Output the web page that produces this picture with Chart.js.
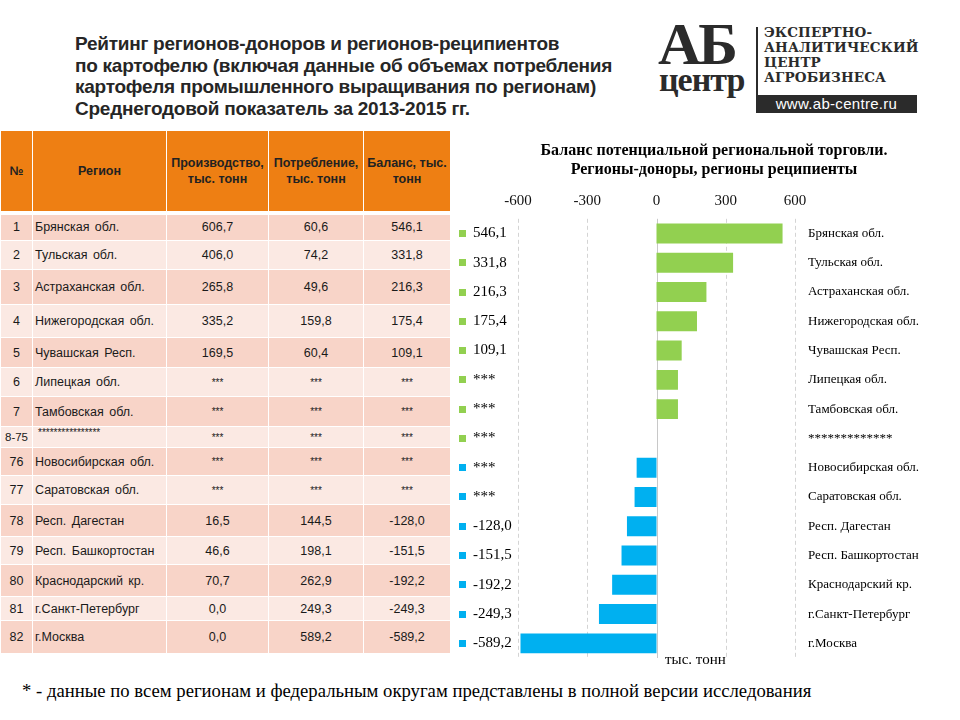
<!DOCTYPE html>
<html><head><meta charset="utf-8">
<script src="https://cdn.jsdelivr.net/npm/chart.js@4.4.1/dist/chart.umd.min.js"></script>
<style>
html,body{margin:0;padding:0;background:#fff;}
#slide{position:relative;width:960px;height:720px;overflow:hidden;background:#fff;}
#title{position:absolute;left:75px;top:33px;font:bold 19px "Liberation Sans",Arial,sans-serif;line-height:21.5px;color:#262626;white-space:nowrap;letter-spacing:-0.25px;}
#tbl{position:absolute;left:0;top:130px;border-collapse:collapse;table-layout:fixed;font:12.5px "Liberation Sans",Arial,sans-serif;color:#1a1a1a;}
#tbl td{border:1.5px solid #fff;padding:0;text-align:center;vertical-align:middle;overflow:hidden;white-space:nowrap;}
#tbl tr.hd td{background:#EE7F13;font-weight:bold;font-size:12.5px;line-height:16px;color:#222;border-bottom:4px solid #fff;}
#tbl tr.dk td{background:#F8D4C8;}
#tbl tr.lt td{background:#FBE9E3;}
#tbl td.rg{text-align:left;padding-left:2px;word-spacing:2px;}
#chartBox{position:absolute;left:455px;top:135px;width:500px;height:540px;}
#unit{position:absolute;left:665px;top:651px;font:15px "Liberation Serif","Times New Roman",serif;color:#000;}
#foot{position:absolute;left:22px;top:680px;font:18.7px "Liberation Serif","Times New Roman",serif;color:#000;white-space:nowrap;}
#logoAB{position:absolute;left:658px;top:14px;font:bold 60px "Liberation Serif",serif;color:#2b2b2b;line-height:60px;letter-spacing:-3px;}
#logoC{position:absolute;left:659px;top:62px;font:bold 34px "Liberation Serif",serif;color:#2b2b2b;line-height:36px;letter-spacing:-1px;}
#logoBar{position:absolute;left:756px;top:27px;width:2px;height:72px;background:#2b2b2b;}
#logoTxt{position:absolute;left:764px;top:25px;font:bold 13.5px "DejaVu Serif",serif;color:#2b2b2b;line-height:15px;letter-spacing:0.1px;white-space:nowrap;}
#logoUrl{position:absolute;left:756px;top:95px;width:161px;height:18px;background:#2b2b2b;color:#fff;font:15px "Liberation Sans",sans-serif;line-height:18px;text-align:center;letter-spacing:0.3px;}
</style></head>
<body><div id="slide">
<div id="title">Рейтинг регионов-доноров и регионов-реципиентов<br>по картофелю (включая данные об объемах потребления<br>картофеля промышленного выращивания по регионам)<br>Среднегодовой показатель за 2013-2015 гг.</div>
<div id="logoAB">АБ</div>
<div id="logoC">центр</div>
<div id="logoBar"></div>
<div id="logoTxt">ЭКСПЕРТНО-<br>АНАЛИТИЧЕСКИЙ<br>ЦЕНТР<br>АГРОБИЗНЕСА</div>
<div id="logoUrl">www.ab-centre.ru</div>
<table id="tbl"></table>
<div id="chartBox"><canvas id="c" width="500" height="540"></canvas></div>
<div id="unit">тыс. тонн</div>
<div id="foot">* - данные по всем регионам и федеральным округам представлены в полной версии исследования</div>
</div>
<script>
// ---- Table data ----
const tableHeaders = ['№', 'Регион', 'Производство,<br>тыс. тонн', 'Потребление,<br>тыс. тонн', 'Баланс, тыс.<br>тонн'];
const rowNums = ['1','2','3','4','5','6','7','8-75','76','77','78','79','80','81','82'];
const rowRegions = ['Брянская обл.','Тульская обл.','Астраханская обл.','Нижегородская обл.','Чувашская Респ.','Липецкая обл.','Тамбовская обл.','****************','Новосибирская  обл.','Саратовская  обл.','Респ. Дагестан','Респ. Башкортостан','Краснодарский кр.','г.Санкт-Петербург','г.Москва'];
const rowProduction = ['606,7','406,0','265,8','335,2','169,5','***','***','***','***','***','16,5','46,6','70,7','0,0','0,0'];
const rowConsumption = ['60,6','74,2','49,6','159,8','60,4','***','***','***','***','***','144,5','198,1','262,9','249,3','589,2'];
const rowBalance = ['546,1','331,8','216,3','175,4','109,1','***','***','***','***','***','-128,0','-151,5','-192,2','-249,3','-589,2'];

// ---- Chart data ----
const categories = ['Брянская обл.','Тульская обл.','Астраханская обл.','Нижегородская обл.','Чувашская Респ.','Липецкая обл.','Тамбовская обл.','*************','Новосибирская обл.','Саратовская обл.','Респ. Дагестан','Респ. Башкортостан','Краснодарский кр.','г.Санкт-Петербург','г.Москва'];
const balance = [546.1, 331.8, 216.3, 175.4, 109.1, 93, 93, 0, -86, -95, -128.0, -151.5, -192.2, -249.3, -589.2];
const valueLabels = ['546,1','331,8','216,3','175,4','109,1','***','***','***','***','***','-128,0','-151,5','-192,2','-249,3','-589,2'];
const xTickValues = [-600, -300, 0, 300, 600];

// ---- Build table ----
(function(){
  const colW = [32,134,102,95,87];
  const rowH = [28,29,35,33,30,29,30,21,28,29,32,28,32,24,33];
  const t = document.getElementById('tbl');
  const cg = document.createElement('colgroup');
  colW.forEach(w => { const c = document.createElement('col'); c.style.width = w + 'px'; cg.appendChild(c); });
  t.appendChild(cg);
  const hr = document.createElement('tr'); hr.className = 'hd'; hr.style.height = '82px';
  tableHeaders.forEach(h => { const td = document.createElement('td'); td.innerHTML = h; hr.appendChild(td); });
  t.appendChild(hr);
  rowNums.forEach((n, i) => {
    const tr = document.createElement('tr');
    tr.className = (i % 2 === 0) ? 'dk' : 'lt';
    tr.style.height = rowH[i] + 'px';
    const cells = [n, rowRegions[i], rowProduction[i], rowConsumption[i], rowBalance[i]];
    cells.forEach((v, j) => {
      const td = document.createElement('td');
      td.textContent = v;
      if (j === 1) td.className = 'rg';
      if (j === 1 && i === 7) { td.style.fontSize = '10px'; td.style.paddingLeft = '5px'; td.style.verticalAlign = 'top'; }
      if (j >= 2 && v === '***') { td.style.fontSize = '10px'; }
      if (j === 0 && i === 7) { td.style.fontSize = '11.5px'; }
      tr.appendChild(td);
    });
    t.appendChild(tr);
  });
})();

// ---- Chart ----
const GREEN = '#92D050';
const BLUE = '#00B0F0';

const gridPlugin = {
  id: 'gridLines',
  beforeDatasetsDraw(chart) {
    const {ctx, chartArea, scales} = chart;
    ctx.save();
    xTickValues.forEach(v => {
      const x = Math.round(scales.x.getPixelForValue(v)) + 0.5;
      ctx.beginPath();
      ctx.lineWidth = 1;
      if (v === 0) { ctx.setLineDash([]); ctx.strokeStyle = '#C8C8C8'; }
      else { ctx.setLineDash([4, 3]); ctx.strokeStyle = '#D4D4D4'; }
      ctx.moveTo(x, chartArea.top);
      ctx.lineTo(x, chartArea.bottom);
      ctx.stroke();
    });
    ctx.restore();
  }
};

const squaresPlugin = {
  id: 'legendSquares',
  afterDraw(chart) {
    const {ctx, scales} = chart;
    const ys = scales.y;
    ctx.save();
    balance.forEach((v, i) => {
      const y = ys.getPixelForTick(i);
      ctx.fillStyle = v >= 0 ? GREEN : BLUE;
      ctx.fillRect(ys.left - 14, Math.round(y - 3.5), 7, 7);
    });
    ctx.restore();
  }
};

new Chart(document.getElementById('c'), {
  type: 'bar',
  data: {
    labels: categories,
    datasets: [{
      data: balance,
      backgroundColor: balance.map(v => v >= 0 ? GREEN : BLUE),
      barPercentage: 0.68,
      categoryPercentage: 1,
      xAxisID: 'x',
      yAxisID: 'y'
    }]
  },
  options: {
    indexAxis: 'y',
    responsive: false,
    animation: false,
    devicePixelRatio: 1,
    layout: { padding: { left: 18, right: 0, top: 0, bottom: 17 } },
    plugins: {
      legend: { display: false },
      tooltip: { enabled: false },
      title: {
        display: true,
        text: ['Баланс потенциальной региональной торговли.', 'Регионы-доноры, регионы реципиенты'],
        color: '#000',
        font: { family: '"Liberation Serif", "Times New Roman", serif', size: 16, weight: 'bold', lineHeight: 1.15 },
        padding: { top: 7, bottom: 4 }
      }
    },
    scales: {
      x: {
        position: 'top',
        min: -600, max: 600,
        afterBuildTicks: s => { s.ticks = xTickValues.map(v => ({ value: v })); },
        ticks: { color: '#111', font: { family: '"Liberation Serif", "Times New Roman", serif', size: 15 }, padding: 9, maxRotation: 0 },
        grid: { display: false, drawTicks: false },
        border: { display: false }
      },
      y: {
        position: 'left',
        grid: { display: false, drawTicks: false },
        border: { display: false },
        ticks: {
          autoSkip: false,
          crossAlign: 'far',
          padding: 0,
          color: '#000',
          font: { family: '"Liberation Serif", "Times New Roman", serif', size: 15 },
          callback: (v, i) => valueLabels[i]
        },
        afterFit: s => { s.width = 45; s.paddingTop = 0; s.paddingBottom = 0; }
      },
      y2: {
        type: 'category',
        labels: categories,
        position: 'right',
        offset: true,
        grid: { display: false, drawTicks: false },
        border: { display: false },
        ticks: {
          autoSkip: false,
          padding: 13,
          color: '#000',
          font: { family: '"Liberation Serif", "Times New Roman", serif', size: 13 }
        },
        afterFit: s => { s.width = 160; s.paddingTop = 0; s.paddingBottom = 0; }
      }
    }
  },
  plugins: [gridPlugin, squaresPlugin]
});
</script>
</body></html>
